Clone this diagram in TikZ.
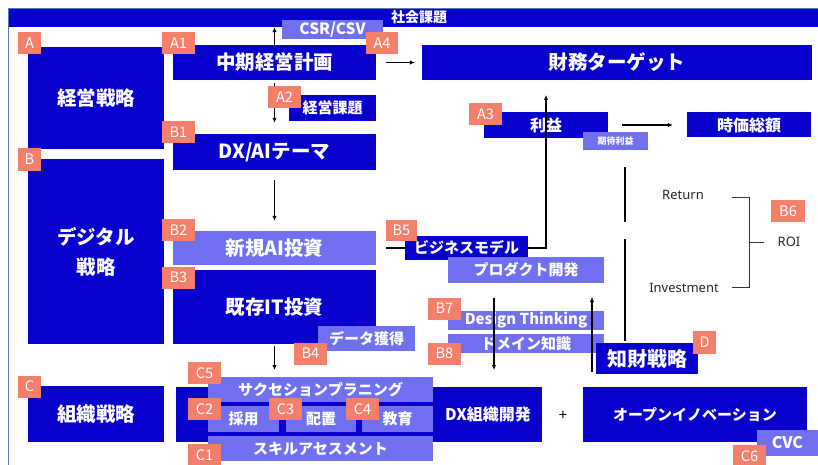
\documentclass[tikz,border=0pt]{standalone}
\usepackage{fontspec}
\setmainfont{Noto Sans CJK JP}
\newfontfamily\latf{Noto Sans}
\usetikzlibrary{arrows.meta}
\definecolor{dk}{RGB}{8,0,204}
\definecolor{lt}{RGB}{112,112,240}
\definecolor{lbc}{RGB}{244,128,108}
\definecolor{frm}{RGB}{84,122,184}
\newcommand{\fsz}[1]{\fontsize{#1}{#1}\selectfont}
\begin{document}
\begin{tikzpicture}[x=1pt,y=-1pt,
 wh/.style 2 args={minimum width=#1pt, minimum height=#2pt},
 dkbox/.style={fill=dk, text=white, inner sep=0pt},
 ltbox/.style={fill=lt, text=white, inner sep=0pt},
 fnt/.style={font=\bfseries\fsz{#1}},
 plain/.style={font=\latf\fsz{13}, text=black!85},
 tag/.style={fill=lbc, text=white, inner sep=0pt, minimum width=33pt, minimum height=22pt, font=\fsz{14.5}},
 arr/.style={-{Latex[length=5pt,width=4.5pt]}, line width=1.1pt},
 ln/.style={line width=1.1pt},
]
\useasboundingbox (0,0) rectangle (818,465);
\clip (0,0) rectangle (818,465);

% frame and top bar
\node[fill=dk, wh={810}{18}, inner sep=0pt] (bar) at (414,18) {};
\draw[frm, line width=1.6pt] (8.5,470) -- (8.5,8.5) -- (820,8.5);
\node[text=white, fnt=14] (shakai) at (419,17.5) {社会課題};

% dark boxes
\node[dkbox, wh={136}{102}, fnt=19.5] (keiei) at (96,98) {経営戦略};
\node[dkbox, wh={136}{185}, align=center, font=\bfseries\fontsize{19.5}{30}\selectfont] (digital) at (96,251.5) {デジタル\\戦略};
\node[dkbox, wh={136}{56}, fnt=19.5] (soshiki) at (96,414) {組織戦略};
\node[dkbox, wh={203}{35}, fnt=19.5] (chuki) at (274.5,62.5) {中期経営計画};
\node[dkbox, wh={87}{26}, fnt=15] (kadai) at (332.5,108) {経営課題};
\node[dkbox, wh={203}{36}, fnt=19.5] (dxai) at (274.5,152) {DX/AIテーマ};
\node[ltbox, wh={203}{34}, fnt=19.5] (shinki) at (274.5,248) {新規AI投資};
\node[dkbox, wh={203}{74}, fnt=19.5] (kizon) at (274.5,307) {既存IT投資};
\node[ltbox, wh={97}{25}, fnt=15] (data) at (366.5,338.5) {データ獲得};
\node[ltbox, wh={101}{19}, fnt=15.5] (csr) at (332.5,29.5) {CSR/CSV};

\node[dkbox, wh={390}{35}, fnt=19.5] (zaimu) at (617,62.5) {財務ターゲット};
\node[dkbox, wh={124}{26}, fnt=16] (rieki) at (546,125) {利益};
\node[ltbox, wh={65}{18}, fnt=9] (kitai) at (615.5,141) {期待利益};
\node[dkbox, wh={124}{25}, fnt=16] (jika) at (749,125) {時価総額};

\node[dkbox, wh={123}{24}, fnt=15] (bm) at (466.5,248) {ビジネスモデル};
\node[ltbox, wh={156}{26}, fnt=15] (prod) at (526,270) {プロダクト開発};
\node[ltbox, wh={156}{19}, fnt=15] (design) at (526,320.5) {Design Thinking};
\node[ltbox, wh={156}{19}, fnt=15] (domain) at (526,343.5) {ドメイン知識};
\node[dkbox, wh={102}{31}, fnt=20] (chizai) at (647,358.5) {知財戦略};

\node[plain] (ret) at (683,195) {Return};
\node[plain] (inv) at (684,288) {Investment};
\node[plain] (roi) at (789,242) {ROI};

% organisation block
\node[dkbox, wh={366}{55}] (cont) at (359,414.5) {};
\node[text=white, fnt=16] (dxorg) at (488,414.5) {DX組織開発};
\node[ltbox, wh={225}{25}, fnt=15] (succ) at (320.5,389.5) {サクセションプラニング};
\node[ltbox, wh={71}{26}, fnt=15] (saiyo) at (243.5,419) {採用};
\node[ltbox, wh={70}{26}, fnt=15] (haichi) at (321,419) {配置};
\node[ltbox, wh={71}{26}, fnt=15] (kyoiku) at (397.5,419) {教育};
\node[ltbox, wh={225}{25}, fnt=15] (skill) at (320.5,448.5) {スキルアセスメント};
\node[font=\fsz{15}] (plus) at (563,416) {+};
\node[dkbox, wh={224}{55}, fnt=15] (open) at (695,414.5) {オープンイノベーション};
\node[ltbox, wh={61}{26}, fnt=16] (cvc) at (787.5,443) {CVC};

% connectors
\coordinate (k1) at (274.5,370);
\coordinate (pup) at (546,95);
\coordinate (dt1) at (494,298);
\coordinate (dt2) at (494,370);
\coordinate (ip1) at (592,372);
\coordinate (ip2) at (592,297);
\coordinate (v1) at (625,167);
\coordinate (v2) at (625,222);
\coordinate (v3) at (625,239);
\coordinate (v4) at (625,341);
\coordinate (r1) at (732,197);
\coordinate (r2) at (749,197);
\coordinate (i1) at (732,287);
\coordinate (i2) at (749,287);
\coordinate (m1) at (749,242);
\coordinate (m2) at (764,242);

\draw[arr] (chuki.north) -- (chuki.north |- bar.south);
\draw[arr] ([yshift=-3pt]chuki.south) -- ([yshift=11pt]dxai.north);
\draw[arr] ([yshift=-10pt]dxai.south) -- ([yshift=10pt]shinki.north);
\draw[arr] ([yshift=-2pt]kizon.south) -- (k1);
\draw[arr] ([xshift=10pt]chuki.east) -- ([xshift=-7pt]zaimu.west);
\draw[arr] ([xshift=14pt]rieki.east) -- ([xshift=-14pt]jika.west);
\draw[ln] ([xshift=10pt]shinki.east) -- (bm.west);
\draw[arr] (bm.east) -| (pup);
\draw[arr] (dt1) -- (dt2);
\draw[arr] (ip1) -- (ip2);
\draw[ln] (v1) -- (v2);
\draw[ln] (v3) -- (v4);
\draw[line width=0.9pt, black!80] (r1) -- (r2) -- (i2) -- (i1);
\draw[line width=0.9pt, black!80] (m1) -- (m2);

% tags
\node[tag, minimum width=23pt] (tA) at (29.5,43.5) {A};
\node[tag, minimum width=23pt] (tB) at (29.5,159.5) {B};
\node[tag, minimum width=23pt] (tC) at (29.5,386.5) {C};
\node[tag] (tA1) at (178.5,43.5) {A1};
\node[tag, minimum width=32pt] (tA4) at (382,43.5) {A4};
\node[tag] (tA2) at (284.5,97) {A2};
\node[tag] (tA3) at (485.5,114.5) {A3};
\node[tag] (tB1) at (178.5,132.5) {B1};
\node[tag] (tB2) at (178.5,230) {B2};
\node[tag] (tB3) at (178.5,277.5) {B3};
\node[tag] (tB4) at (310.5,353.5) {B4};
\node[tag, minimum width=31pt, minimum height=21pt] (tB5) at (401.5,230.5) {B5};
\node[tag, minimum width=34pt] (tB6) at (788,211) {B6};
\node[tag] (tB7) at (444.5,308.5) {B7};
\node[tag] (tB8) at (444.5,353.5) {B8};
\node[tag] (tC5) at (204.5,373) {C5};
\node[tag] (tC2) at (204.5,409) {C2};
\node[tag] (tC3) at (285.5,409) {C3};
\node[tag] (tC4) at (362.5,409) {C4};
\node[tag] (tC1) at (204.5,455) {C1};
\node[tag] (tC6) at (749.5,456) {C6};
\node[tag, minimum width=23pt, minimum height=23pt] (tD) at (704.5,342.5) {D};
\end{tikzpicture}
\end{document}
